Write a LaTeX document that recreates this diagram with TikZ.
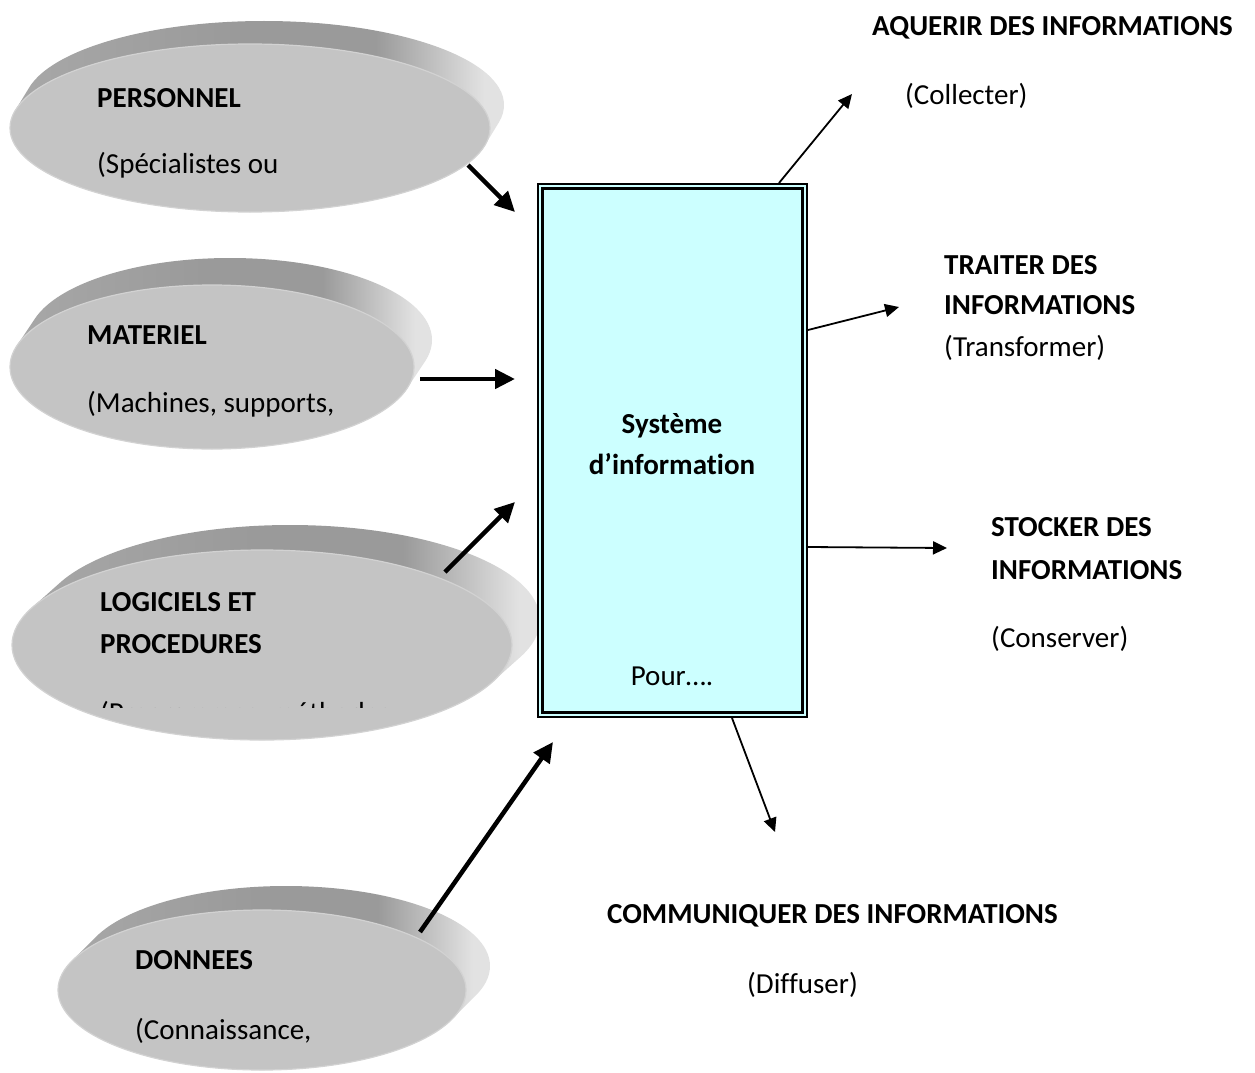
\documentclass[tikz,border=0pt]{standalone}
\usepackage{fontspec}
\setmainfont{Carlito}[Ligatures=NoCommon]
\usetikzlibrary{arrows.meta,calc,shapes.geometric}

\definecolor{sysfill}{RGB}{204,255,255}
\definecolor{discface}{RGB}{196,196,196}
\definecolor{discrim}{RGB}{210,210,210}
\definecolor{sidedark}{RGB}{168,168,168}
\definecolor{sidemid}{RGB}{154,154,154}
\definecolor{sidelight}{RGB}{226,226,226}

% side of the discs: grey, darker in the middle, lit on the right
\pgfdeclarehorizontalshading{discside}{100bp}{%
  color(0bp)=(sidedark); color(25bp)=(sidedark); color(48bp)=(sidemid);
  color(62bp)=(sidemid); color(73bp)=(sidelight); color(100bp)=(sidelight)}

% extruded grey disc: name, cx, cy, rx, ry, dx, dy (offset of the back face)
\newcommand\infodisc[7]{%
  \shade[shading=discside]
    \foreach \k in {1,...,30}{ ({#2+#6*\k/30},{#3+#7*\k/30}) ellipse [x radius=#4, y radius=#5] };
  \node[ellipse, fill=discface, draw=discrim, line width=1.2pt,
        minimum width=2*#4, minimum height=2*#5, inner sep=0] (#1) at (#2,#3) {};
}

\tikzset{
  txt/.style={anchor=base west, inner sep=0, font=\fontsize{29}{35}\selectfont},
  btxt/.style={txt, font=\fontsize{29}{35}\selectfont\bfseries},
  bigarrow/.style={line width=4.5pt, -{Triangle[length=20pt,width=19pt]}},
  smallarrow/.style={line width=1.8pt, -{Triangle[length=14pt,width=13pt]}},
}

\begin{document}
\begin{tikzpicture}[x=1pt, y=-1pt]
\useasboundingbox (0,0) rectangle (1255,1073);
\fill[white] (0,0) rectangle (1255,1073);

% the four resource discs
\infodisc{pers}{250}{128}{240}{84}{14}{-23}
\infodisc{mat}{212}{367}{202}{82}{18}{-27}
\infodisc{logi}{262}{645}{250}{95}{28}{-25}
\infodisc{donn}{262}{990}{204}{80}{24}{-24}

% disc captions
\node[btxt] (persT) at (97,107) {PERSONNEL};
\node[txt]  (persS) at (97,173) {(Spécialistes ou};
\node[btxt] (matT) at (87,344) {MATERIEL};
\node[txt]  (matS) at (87,412) {(Machines, supports,};
\node[btxt] (logiT) at (100,611) {LOGICIELS ET};
\node[btxt] (logiU) at (100,653) {PROCEDURES};
\begin{scope}
  \clip (90,680) rectangle (480,707);
  \node[txt] (logiS) at (100,722) {(Programmes, méthodes};
\end{scope}
\node[btxt] (donnT) at (135,969) {DONNEES};
\node[txt]  (donnS) at (135,1039) {(Connaissance,};

% central system box, thin outer and thick inner frame
\node[draw, line width=2pt, fill=sysfill, minimum width=269pt, minimum height=533pt,
      inner sep=0] (sys) at (672.5,450.5) {};
\draw[line width=3pt] ($(sys.north west)+(5.5,5.5)$) rectangle ($(sys.south east)+(-5.5,-5.5)$);
\node[btxt, anchor=base] (sysA) at (672,433) {Système};
\node[btxt, anchor=base] (sysB) at (672,474) {d’information};
\node[txt, anchor=base] (pour) at (672,685) {Pour….};

% inputs
\coordinate (in1) at (468,165);  \coordinate (to1) at (515,212);
\coordinate (in2) at (420,379);  \coordinate (to2) at (515,379);
\coordinate (in3) at (445,572);  \coordinate (to3) at (515,502);
\coordinate (in4) at (420,932);  \coordinate (to4) at (553,742);
\draw[bigarrow] (in1) -- (to1);
\draw[bigarrow] (in2) -- (to2);
\draw[bigarrow] (in3) -- (to3);
\draw[bigarrow] (in4) -- (to4);

% functions
\node[btxt] (acqT) at (872,36) {AQUERIR DES INFORMATIONS};
\node[txt]  (acqS) at (905,104) {(Collecter)};
\node[btxt] (traT) at (944,274) {TRAITER DES};
\node[btxt] (traU) at (944,314) {INFORMATIONS};
\node[txt]  (traS) at (944,356) {(Transformer)};
\node[btxt] (stoT) at (991,536) {STOCKER DES};
\node[btxt] (stoU) at (991,579) {INFORMATIONS};
\node[txt]  (stoS) at (991,647) {(Conserver)};
\node[btxt] (comT) at (607,923) {COMMUNIQUER DES INFORMATIONS};
\node[txt]  (comS) at (747,993) {(Diffuser)};

% outputs
\coordinate (out1) at (852,94);
\coordinate (out2) at (899,307);
\coordinate (out3) at (947,548);
\coordinate (out4) at (775,832);
\draw[smallarrow] ($(sys.north west)+(242,0)$) -- (out1);
\draw[smallarrow] ($(sys.north east)+(0,147)$) -- (out2);
\draw[smallarrow] ($(sys.north east)+(0,364)$) -- (out3);
\draw[smallarrow] ($(sys.south west)+(195,0)$) -- (out4);
\end{tikzpicture}
\end{document}
